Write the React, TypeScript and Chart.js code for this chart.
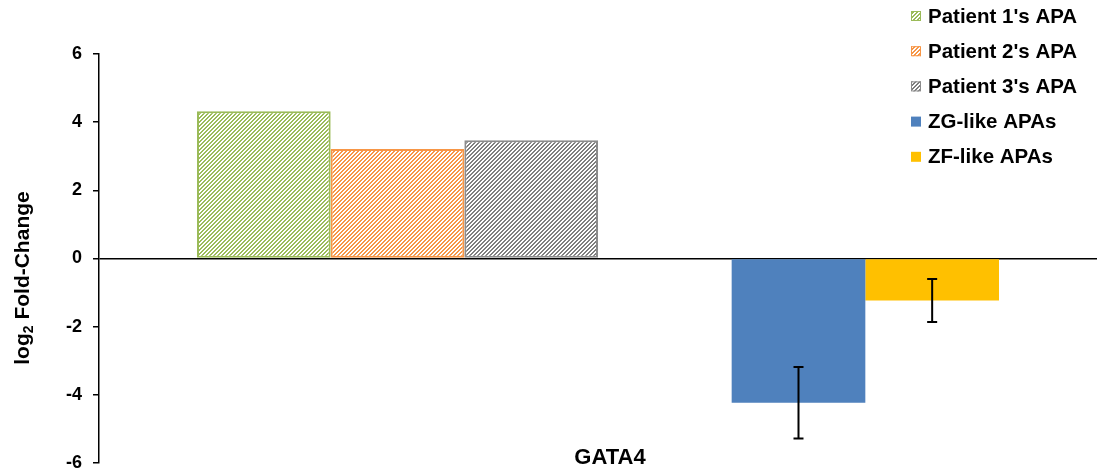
import React, { useEffect, useRef } from "react";
import { Chart, registerables } from "chart.js";

Chart.register(...registerables);

const categories = ["GATA4"];
const seriesLabels = ["Patient 1's APA", "Patient 2's APA", "Patient 3's APA", "", "ZG-like APAs", "ZF-like APAs"];
const seriesValues: (number | null)[] = [4.32, 3.21, 3.47, null, -4.23, -1.23];
const seriesErrors: (number | null)[] = [null, null, null, null, 1.05, 0.63];
const yTicks = [-6, -4, -2, 0, 2, 4, 6];
const yTitleParts = ["log", "2", " Fold-Change"];

const FONT = "Arial, 'Liberation Sans', sans-serif";

function hatch(color: string): CanvasPattern | string {
  const c = document.createElement("canvas");
  c.width = 4;
  c.height = 4;
  const ctx = c.getContext("2d");
  if (!ctx) return color;
  ctx.fillStyle = "#ffffff";
  ctx.fillRect(0, 0, 4, 4);
  ctx.fillStyle = color;
  for (let x = 0; x < 4; x++) {
    for (let y = 0; y < 4; y++) {
      if ((x + y) % 4 < 2) ctx.fillRect(x, y, 1, 1);
    }
  }
  const p = ctx.createPattern(c, "repeat");
  return p || color;
}

export default function App() {
  const ref = useRef<HTMLCanvasElement | null>(null);

  useEffect(() => {
    if (!ref.current) return;
    const styles = [
      { kind: "hatch", color: "#9BBB59", border: "#9BBB59" },
      { kind: "hatch", color: "#F79646", border: "#F79646" },
      { kind: "hatch", color: "#7F7F7F", border: "#8C8C8C" },
      { kind: "none", color: "rgba(0,0,0,0)", border: "rgba(0,0,0,0)" },
      { kind: "solid", color: "#4F81BD", border: "#4F81BD" },
      { kind: "solid", color: "#FFC000", border: "#FFC000" },
    ];
    const fills = styles.map((s) => (s.kind === "hatch" ? hatch(s.color) : s.color));

    const datasets = seriesLabels.map((label, i) => ({
      label,
      data: [seriesValues[i]],
      backgroundColor: fills[i] as any,
      borderColor: styles[i].border,
      borderWidth: styles[i].kind === "hatch" ? 2 : 0,
      borderSkipped: false as any,
      barPercentage: 1,
      categoryPercentage: 0.8036,
    }));

    const errorBars = {
      id: "errorBars",
      afterDatasetsDraw(chart: any) {
        const ctx = chart.ctx;
        const y = chart.scales.y;
        ctx.save();
        ctx.strokeStyle = "#000";
        ctx.lineWidth = 2;
        seriesErrors.forEach((err, i) => {
          const v = seriesValues[i];
          if (err == null || v == null) return;
          const el = chart.getDatasetMeta(i).data[0];
          const x = el.x;
          const y1 = y.getPixelForValue(v + err);
          const y2 = y.getPixelForValue(v - err);
          ctx.beginPath();
          ctx.moveTo(x, y1);
          ctx.lineTo(x, y2);
          ctx.moveTo(x - 5, y1);
          ctx.lineTo(x + 5, y1);
          ctx.moveTo(x - 5, y2);
          ctx.lineTo(x + 5, y2);
          ctx.stroke();
        });
        ctx.restore();
      },
    };

    const textPlugin = {
      id: "texts",
      afterDraw(chart: any) {
        const ctx = chart.ctx;
        const xs = chart.scales.x;
        ctx.save();
        ctx.font = `bold 22px ${FONT}`;
        ctx.fillStyle = "#000";
        ctx.textAlign = "center";
        ctx.textBaseline = "middle";
        categories.forEach((c, i) => {
          ctx.fillText(c, xs.getPixelForValue(i) + 12, 458);
        });
        const big = `bold 21px ${FONT}`;
        const small = `bold 14px ${FONT}`;
        ctx.font = big;
        const w0 = ctx.measureText(yTitleParts[0]).width;
        const w2 = ctx.measureText(yTitleParts[2]).width;
        ctx.font = small;
        const w1 = ctx.measureText(yTitleParts[1]).width;
        const total = w0 + w1 + w2;
        ctx.translate(29, 278);
        ctx.rotate(-Math.PI / 2);
        ctx.textAlign = "left";
        ctx.textBaseline = "alphabetic";
        let x = -total / 2;
        ctx.font = big;
        ctx.fillText(yTitleParts[0], x, 0);
        x += w0;
        ctx.font = small;
        ctx.fillText(yTitleParts[1], x, 4);
        x += w1;
        ctx.font = big;
        ctx.fillText(yTitleParts[2], x, 0);
        ctx.restore();

        ctx.save();
        ctx.font = `bold 20.5px ${FONT}`;
        ctx.textBaseline = "middle";
        ctx.textAlign = "left";
        let row = 0;
        seriesLabels.forEach((label, i) => {
          if (!label) return;
          const cy = 16 + row * 35.2;
          const sx = 911;
          const s = styles[i];
          ctx.fillStyle = fills[i];
          ctx.fillRect(sx, cy - 5, 10, 10);
          if (s.kind === "hatch") {
            ctx.strokeStyle = s.border;
            ctx.lineWidth = 1;
            ctx.strokeRect(sx + 0.5, cy - 4.5, 9, 9);
          }
          ctx.fillStyle = "#000";
          ctx.fillText(label, 928, cy + 1);
          row++;
        });
        ctx.restore();
      },
    };

    const chart = new Chart(ref.current, {
      type: "bar",
      data: { labels: categories, datasets },
      options: {
        animation: false,
        responsive: false,
        maintainAspectRatio: false,
        layout: { padding: { top: 54, bottom: 9, left: 0, right: 0 } },
        plugins: { legend: { display: false }, tooltip: { enabled: false } },
        scales: {
          x: { display: false },
          y: {
            z: 1,
            min: -6,
            max: 6,
            afterFit(scale: any) {
              scale.width = 99;
              scale.paddingTop = 0;
              scale.paddingBottom = 0;
            },
            afterBuildTicks(scale: any) {
              scale.ticks = yTicks.map((v) => ({ value: v }));
            },
            ticks: {
              color: "#000",
              padding: 11,
              font: { family: FONT, size: 18, weight: "bold", lineHeight: 1 },
            },
            grid: {
              color: (ctx: any) => (ctx.tick && ctx.tick.value === 0 ? "#000" : "rgba(0,0,0,0)"),
              tickColor: "#000",
              tickLength: 6,
              lineWidth: 1.5,
            },
            border: { display: true, color: "#000", width: 1.5 },
            title: { display: false },
          },
        },
      },
      plugins: [errorBars, textPlugin],
    });
    return () => chart.destroy();
  }, []);

  return (
    <div style={{ position: "fixed", left: 0, top: 0, width: 1097, height: 472, background: "#fff" }}>
      <canvas ref={ref} width={1097} height={472} style={{ display: "block" }} />
    </div>
  );
}
